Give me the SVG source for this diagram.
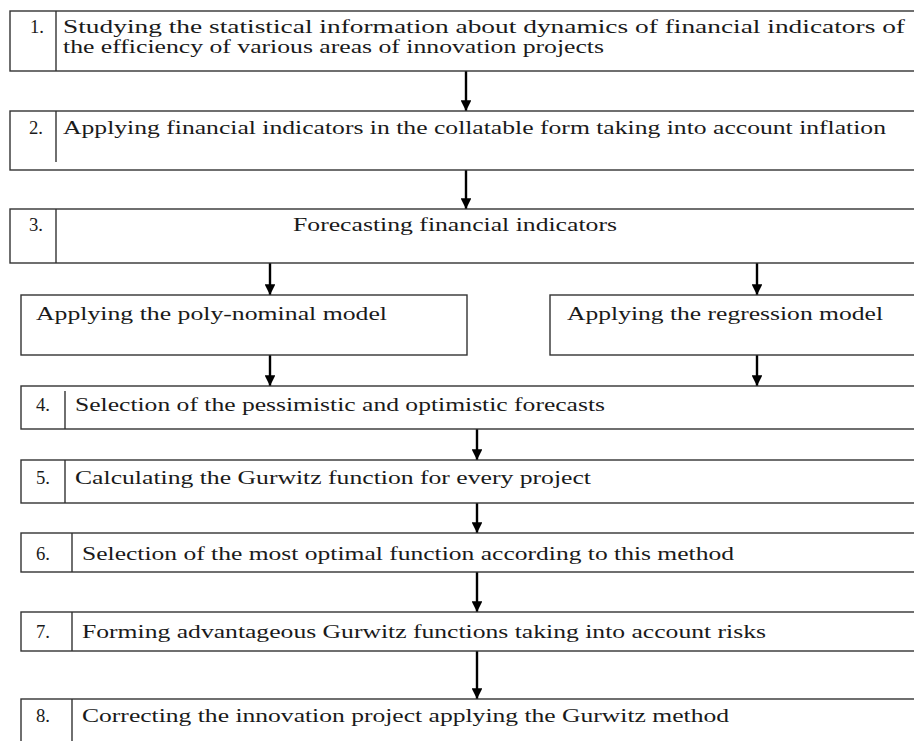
<svg xmlns="http://www.w3.org/2000/svg" width="914" height="741" viewBox="0 0 914 741">
<defs>
<marker id="ah" viewBox="0 0 10 10" refX="10" refY="5" markerWidth="5" markerHeight="4.5" orient="auto" markerUnits="strokeWidth">
<path d="M0,0 L10,5 L0,10 z" fill="#000"/>
</marker>
<style>
.box{fill:#fff;stroke:#333;stroke-width:1.4}
.div{stroke:#333;stroke-width:1.4}
.t{font-family:"Liberation Serif","Times New Roman",serif;font-size:18px;fill:#1a1a1a}
.c{stroke:#000;stroke-width:2.4;fill:none;marker-end:url(#ah)}
</style>
</defs>
<rect width="914" height="741" fill="#fff"/>
<g id="connectors">
<line class="c" x1="466" y1="71" x2="466" y2="111"/>
<line class="c" x1="466" y1="170" x2="466" y2="209"/>
<line class="c" x1="270" y1="263" x2="270" y2="295"/>
<line class="c" x1="757" y1="263" x2="757" y2="295"/>
<line class="c" x1="270" y1="355" x2="270" y2="386"/>
<line class="c" x1="757" y1="355" x2="757" y2="386"/>
<line class="c" x1="477" y1="429" x2="477" y2="460"/>
<line class="c" x1="477" y1="503" x2="477" y2="533"/>
<line class="c" x1="477" y1="572" x2="477" y2="612"/>
<line class="c" x1="477" y1="651" x2="477" y2="699"/>
</g>
<g id="step1">
<rect class="box" x="10" y="11" width="920" height="60"/>
<line class="div" x1="56" y1="11" x2="56" y2="71"/>
<text class="t" x="30" y="33" textLength="14" lengthAdjust="spacingAndGlyphs">1.</text>
<text class="t" x="63" y="33" textLength="842" lengthAdjust="spacingAndGlyphs">Studying the statistical information about dynamics of financial indicators of</text>
<text class="t" x="63" y="53" textLength="541" lengthAdjust="spacingAndGlyphs">the efficiency of various areas of innovation projects</text>
</g>
<g id="step2">
<rect class="box" x="10" y="111" width="920" height="59"/>
<line class="div" x1="56" y1="111" x2="56" y2="162"/>
<text class="t" x="29" y="134" textLength="14" lengthAdjust="spacingAndGlyphs">2.</text>
<text class="t" x="63" y="134" textLength="823" lengthAdjust="spacingAndGlyphs">Applying financial indicators in the collatable form taking into account inflation</text>
</g>
<g id="step3">
<rect class="box" x="10" y="209" width="920" height="54"/>
<line class="div" x1="56" y1="209" x2="56" y2="263"/>
<text class="t" x="29" y="231" textLength="14" lengthAdjust="spacingAndGlyphs">3.</text>
<text class="t" x="293" y="231" textLength="324" lengthAdjust="spacingAndGlyphs">Forecasting financial indicators</text>
</g>
<g id="poly">
<rect class="box" x="21" y="295" width="446" height="60"/>
<text class="t" x="36" y="320" textLength="351" lengthAdjust="spacingAndGlyphs">Applying the poly-nominal model</text>
</g>
<g id="regression">
<rect class="box" x="550" y="295" width="380" height="60"/>
<text class="t" x="567" y="320" textLength="316" lengthAdjust="spacingAndGlyphs">Applying the regression model</text>
</g>
<g id="step4">
<rect class="box" x="21" y="386" width="909" height="43"/>
<line class="div" x1="65" y1="391" x2="65" y2="429"/>
<text class="t" x="36" y="411" textLength="14" lengthAdjust="spacingAndGlyphs">4.</text>
<text class="t" x="75" y="411" textLength="530" lengthAdjust="spacingAndGlyphs">Selection of the pessimistic and optimistic forecasts</text>
</g>
<g id="step5">
<rect class="box" x="21" y="460" width="909" height="43"/>
<line class="div" x1="65" y1="460" x2="65" y2="503"/>
<text class="t" x="36" y="484" textLength="14" lengthAdjust="spacingAndGlyphs">5.</text>
<text class="t" x="75" y="484" textLength="516" lengthAdjust="spacingAndGlyphs">Calculating the Gurwitz function for every project</text>
</g>
<g id="step6">
<rect class="box" x="21" y="533" width="909" height="39"/>
<line class="div" x1="72" y1="533" x2="72" y2="572"/>
<text class="t" x="36" y="560" textLength="14" lengthAdjust="spacingAndGlyphs">6.</text>
<text class="t" x="82" y="560" textLength="652" lengthAdjust="spacingAndGlyphs">Selection of the most optimal function according to this method</text>
</g>
<g id="step7">
<rect class="box" x="21" y="612" width="909" height="39"/>
<line class="div" x1="72" y1="612" x2="72" y2="651"/>
<text class="t" x="36" y="638" textLength="14" lengthAdjust="spacingAndGlyphs">7.</text>
<text class="t" x="82" y="638" textLength="684" lengthAdjust="spacingAndGlyphs">Forming advantageous Gurwitz functions taking into account risks</text>
</g>
<g id="step8">
<rect class="box" x="21" y="699" width="909" height="60"/>
<line class="div" x1="72" y1="699" x2="72" y2="759"/>
<text class="t" x="36" y="722" textLength="14" lengthAdjust="spacingAndGlyphs">8.</text>
<text class="t" x="82" y="722" textLength="647" lengthAdjust="spacingAndGlyphs">Correcting the innovation project applying the Gurwitz method</text>
</g>
</svg>
